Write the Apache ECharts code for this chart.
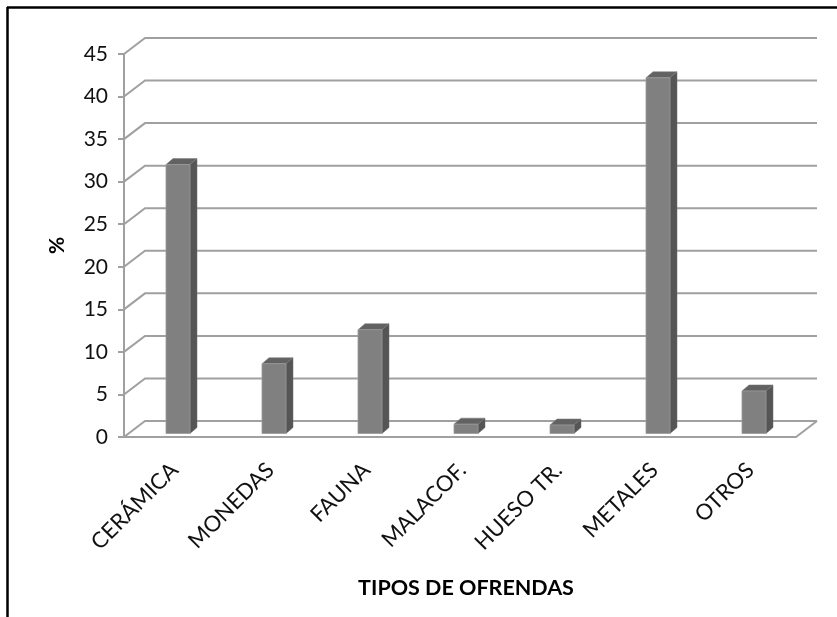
<!DOCTYPE html>
<html>
<head>
<meta charset="utf-8">
<script src="https://cdn.jsdelivr.net/npm/echarts@6/dist/echarts.min.js"></script>
<style>
html,body{margin:0;padding:0;background:#fff;}
#chart{width:837px;height:617px;}
</style>
</head>
<body>
<div id="chart"></div>
<script>
const categories = ['CERÁMICA', 'MONEDAS', 'FAUNA', 'MALACOF.', 'HUESO TR.', 'METALES', 'OTROS'];
const values = [31.6, 8.2, 12.2, 1.1, 1.0, 41.8, 5.0];
const yTicks = [0, 5, 10, 15, 20, 25, 30, 35, 40, 45];
const xAxisName = 'TIPOS DE OFRENDAS';
const yAxisName = '%';

const DX = 21, DY = 16, AX_OFF = 6;
const GRID_COLOR = '#a0a0a0';
const FONT = 'Lato';

function renderWall(params, api) {
  const cs = params.coordSys;
  const v = api.value(1);
  const y = api.coord([0, v])[1];
  const fx = cs.x - AX_OFF;
  const right = cs.x + cs.width - AX_OFF;
  const style = { stroke: GRID_COLOR, lineWidth: 2, fill: null };
  const children = [
    { type: 'polyline', shape: { points: [[fx, y], [fx + DX, y - DY], [right + DX, y - DY]] }, style: style }
  ];
  if (v === 0) {
    children.push({ type: 'polyline', shape: { points: [[fx, y], [right, y], [right + DX, y - DY]] }, style: style });
  }
  return { type: 'group', children: children };
}

function renderBar(params, api) {
  const idx = api.value(0);
  const base = api.coord([idx, 0]);
  const top = api.coord([idx, api.value(1)]);
  const band = api.size([1, 0])[0];
  const w = band * 0.25;
  const d = 7, off = 3.5;
  const x0 = base[0] - w / 2, x1 = base[0] + w / 2;
  const yb = base[1] - off, yt = top[1] - off;
  return {
    type: 'group',
    children: [
      { type: 'polygon', shape: { points: [[x1, yt], [x1 + d, yt - d + 1], [x1 + d, yb - d + 1], [x1, yb]] },
        style: { fill: '#555555', stroke: '#6a6a6a', lineWidth: 0.5 } },
      { type: 'polygon', shape: { points: [[x0, yt], [x1, yt], [x1 + d, yt - d + 1], [x0 + d, yt - d + 1]] },
        style: { fill: '#626262', stroke: '#7a7a7a', lineWidth: 0.5 } },
      { type: 'rect', shape: { x: x0, y: yt, width: w, height: yb - yt },
        style: { fill: '#808080', stroke: '#9a9a9a', lineWidth: 0.8 } }
    ]
  };
}

const chart = echarts.init(document.getElementById('chart'));
chart.setOption({
  backgroundColor: '#ffffff',
  animation: false,
  graphic: [
    { type: 'line', shape: { x1: 7, y1: 7.5, x2: 837, y2: 7.5 }, style: { stroke: '#000', lineWidth: 2.5 } },
    { type: 'line', shape: { x1: 7.5, y1: 7, x2: 7.5, y2: 617 }, style: { stroke: '#000', lineWidth: 2.5 } }
  ],
  grid: { left: 130, right: 35, top: 54, bottom: 180 },
  xAxis: {
    type: 'category',
    data: categories,
    axisLine: { show: false },
    axisTick: { show: false },
    axisLabel: { rotate: 45, margin: 26, fontFamily: FONT, fontSize: 22, color: '#111', interval: 0, padding: [0, 5, 0, 0] },
    name: xAxisName,
    nameLocation: 'middle',
    nameGap: 140,
    nameTextStyle: { fontFamily: FONT, fontSize: 21.5, fontWeight: 'bold', color: '#000' }
  },
  yAxis: {
    type: 'value',
    min: 0,
    max: 45,
    interval: 5,
    offset: AX_OFF,
    axisLine: { show: true, lineStyle: { color: GRID_COLOR, width: 2 } },
    axisTick: { show: true, length: 6, lineStyle: { color: GRID_COLOR, width: 2 } },
    splitLine: { show: false },
    axisLabel: { margin: 16, fontFamily: FONT, fontSize: 21, color: '#111' },
    name: yAxisName,
    nameLocation: 'middle',
    nameGap: 56,
    nameTextStyle: { fontFamily: FONT, fontSize: 21, fontWeight: 'bold', color: '#000' }
  },
  series: [
    {
      type: 'custom',
      renderItem: renderWall,
      data: yTicks.map(v => [0, v]),
      encode: { x: 0, y: 1 },
      silent: true,
      z: 1
    },
    {
      type: 'custom',
      renderItem: renderBar,
      data: values.map((v, i) => [i, v]),
      encode: { x: 0, y: 1 },
      z: 2
    }
  ]
});
</script>
</body>
</html>
